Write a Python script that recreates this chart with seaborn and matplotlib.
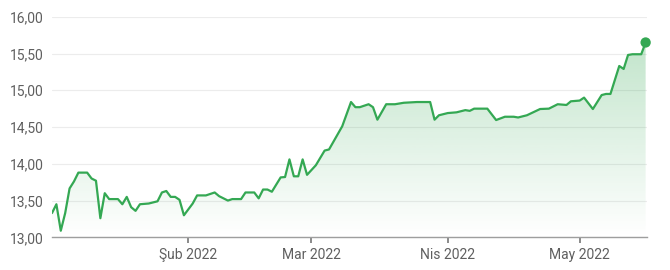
import numpy as np
import pandas as pd
import matplotlib
matplotlib.use("Agg")
import matplotlib.pyplot as plt
import matplotlib.dates as mdates
from matplotlib.ticker import FuncFormatter, FixedLocator
import seaborn as sns

dates = [
    "2022-01-01", "2022-01-02", "2022-01-03", "2022-01-04", "2022-01-05", "2022-01-06",
    "2022-01-07", "2022-01-09", "2022-01-10", "2022-01-11", "2022-01-12", "2022-01-13",
    "2022-01-14", "2022-01-16", "2022-01-17", "2022-01-18", "2022-01-19", "2022-01-20",
    "2022-01-21", "2022-01-23", "2022-01-25", "2022-01-26", "2022-01-27", "2022-01-28",
    "2022-01-29", "2022-01-30", "2022-01-31", "2022-02-02", "2022-02-03", "2022-02-05",
    "2022-02-07", "2022-02-08", "2022-02-10", "2022-02-11", "2022-02-13", "2022-02-14",
    "2022-02-16", "2022-02-17", "2022-02-18", "2022-02-19", "2022-02-20", "2022-02-22",
    "2022-02-23", "2022-02-24", "2022-02-25", "2022-02-26", "2022-02-27", "2022-02-28",
    "2022-03-02", "2022-03-04", "2022-03-05", "2022-03-06", "2022-03-08", "2022-03-10",
    "2022-03-11", "2022-03-12", "2022-03-14", "2022-03-15", "2022-03-16", "2022-03-18",
    "2022-03-20", "2022-03-22", "2022-03-25", "2022-03-28", "2022-03-29", "2022-03-30",
    "2022-04-01", "2022-04-03", "2022-04-05", "2022-04-06", "2022-04-07", "2022-04-10",
    "2022-04-12", "2022-04-14", "2022-04-16", "2022-04-17", "2022-04-19", "2022-04-22",
    "2022-04-24", "2022-04-26", "2022-04-28", "2022-04-29", "2022-05-01", "2022-05-02",
    "2022-05-04", "2022-05-06", "2022-05-07", "2022-05-08", "2022-05-10", "2022-05-11",
    "2022-05-12", "2022-05-13", "2022-05-15", "2022-05-16",
]
values = [
    13.33, 13.45, 13.09, 13.33, 13.665, 13.76,
    13.88, 13.88, 13.80, 13.77, 13.26, 13.60,
    13.52, 13.52, 13.45, 13.55, 13.41, 13.36,
    13.45, 13.46, 13.49, 13.61, 13.63, 13.55,
    13.55, 13.51, 13.30, 13.46, 13.57, 13.57,
    13.61, 13.56, 13.50, 13.52, 13.52, 13.61,
    13.61, 13.53, 13.65, 13.65, 13.62, 13.815,
    13.82, 14.06, 13.83, 13.83, 14.06, 13.85,
    13.98, 14.18, 14.195, 14.30, 14.51, 14.84,
    14.77, 14.77, 14.81, 14.77, 14.60, 14.81,
    14.81, 14.83, 14.84, 14.84, 14.60, 14.66,
    14.69, 14.70, 14.73, 14.72, 14.75, 14.75,
    14.595, 14.64, 14.64, 14.63, 14.66, 14.745,
    14.75, 14.81, 14.80, 14.85, 14.86, 14.90,
    14.745, 14.935, 14.95, 14.95, 15.33, 15.29,
    15.48, 15.49, 15.49, 15.65,
]
tick_dates = ["2022-02-01", "2022-03-01", "2022-04-01", "2022-05-01"]
tick_labels = ["Şub 2022", "Mar 2022", "Nis 2022", "May 2022"]
y_ticks = [13.0, 13.5, 14.0, 14.5, 15.0, 15.5, 16.0]

df = pd.DataFrame({"date": pd.to_datetime(dates), "value": values})

sns.set_theme(style="white")
plt.rcParams["font.family"] = ["Roboto", "DejaVu Sans"]

green = "#34a853"
fig = plt.figure(figsize=(6.7, 2.7), dpi=100)
ax = fig.add_axes([0.0776, 0.121, 0.888, 0.817])

sns.lineplot(data=df, x="date", y="value", color=green, linewidth=1.6, ax=ax, zorder=3,
             solid_joinstyle="round", solid_capstyle="round")

xnum = mdates.date2num(df["date"])
x0 = mdates.date2num(pd.Timestamp("2022-01-01"))
x1 = mdates.date2num(pd.Timestamp("2022-05-16")) + 0.3
ymin, ymax = 13.0, 16.0

# gradient fill below line
fill = ax.fill_between(xnum, df["value"], ymin, color="none", lw=0)
grad = np.zeros((256, 1, 4))
grad[:, 0, 0] = 52 / 255
grad[:, 0, 1] = 168 / 255
grad[:, 0, 2] = 83 / 255
grad[:, 0, 3] = np.linspace(0.0, 0.34, 256)
im = ax.imshow(grad, extent=[x0, x1, ymin, ymax], aspect="auto", origin="lower", zorder=1)
paths = fill.get_paths()
im.set_clip_path(paths[0], transform=ax.transData)

ax.scatter([xnum[-1]], [df["value"].iloc[-1]], s=55, color=green, zorder=4,
           edgecolor="none", clip_on=False)

ax.set_xlim(x0, x1)
ax.set_ylim(ymin, ymax)
ax.set_aspect("auto")

ax.yaxis.set_major_locator(FixedLocator(y_ticks))
ax.yaxis.set_major_formatter(FuncFormatter(lambda v, p: f"{v:.2f}".replace(".", ",")))
ax.xaxis.set_major_locator(FixedLocator(mdates.date2num(pd.to_datetime(tick_dates))))
ax.set_xticklabels(tick_labels)

ax.yaxis.grid(True, color="#ececec", linewidth=0.8)
ax.xaxis.grid(False)
for s in ["top", "right", "left"]:
    ax.spines[s].set_visible(False)
ax.spines["bottom"].set_color("#9e9e9e")
ax.spines["bottom"].set_linewidth(1.0)
ax.tick_params(axis="x", length=4, width=1.2, color="#777777", labelsize=10, labelcolor="#5f5f5f", pad=4, direction="out", bottom=True)
ax.tick_params(axis="y", length=0, labelsize=10, labelcolor="#5f5f5f", pad=6)
ax.set_xlabel("")
ax.set_ylabel("")

fig.savefig("out.png", dpi=100)
